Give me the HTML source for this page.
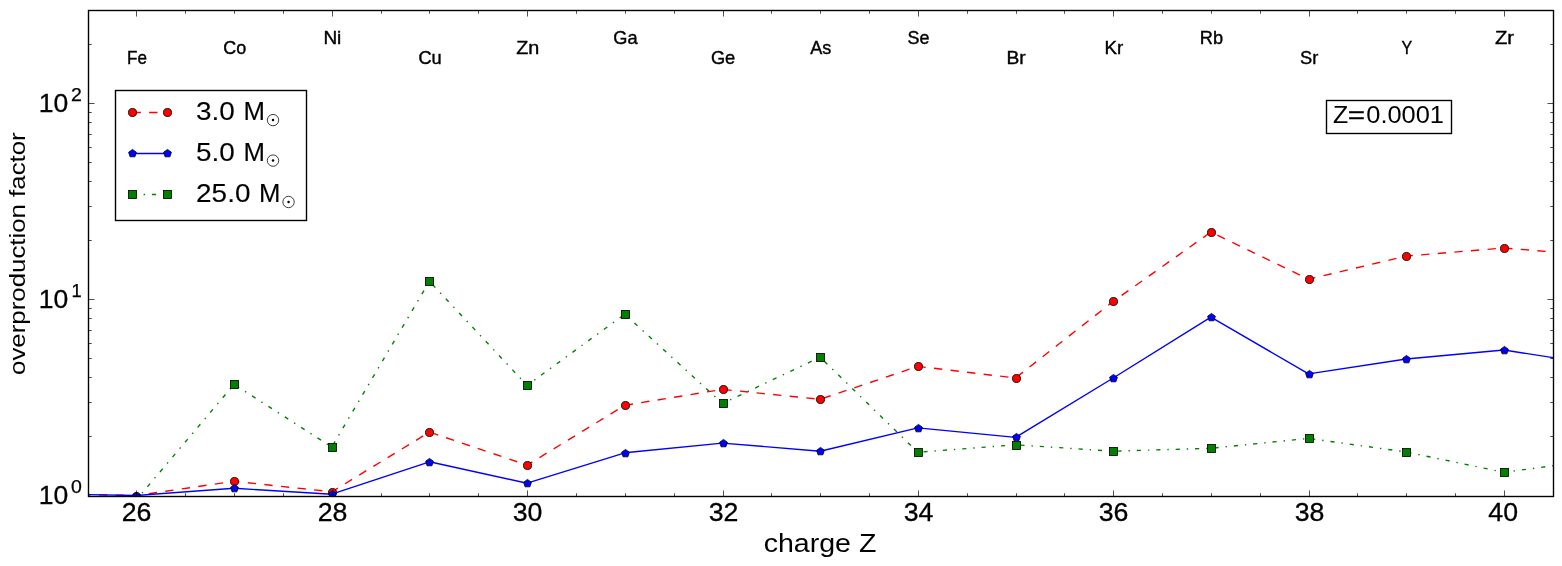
<!DOCTYPE html>
<html><head><meta charset="utf-8"><title>overproduction factor</title>
<style>html,body{margin:0;padding:0;background:#fff}svg{display:block;will-change:transform}text{font-family:"Liberation Sans",sans-serif;fill:#000}</style>
</head><body>
<svg width="1562" height="566" viewBox="0 0 1562 566">
<rect x="0" y="0" width="1562" height="566" fill="#fff"/>
<defs><clipPath id="ax"><rect x="88" y="10" width="1465" height="486"/></clipPath></defs>
<g clip-path="url(#ax)">
<path d="M38.74 493.9 L136.42 495.5 L234.1 481.3 L331.78 491.8 L429.46 432.1 L527.14 465.1 L624.82 405.3 L722.5 389.4 L820.18 399.3 L917.86 366.4 L1015.54 378 L1113.22 301.4 L1210.9 232.1 L1308.58 279.2 L1406.26 256.1 L1503.94 248 L1601.62 256" fill="none" stroke="#ff0000" stroke-width="1.39" stroke-dasharray="8.33 8.33" stroke-dashoffset="6.41"/>
<circle cx="136.5" cy="496.5" r="4.03" fill="#ff0000" stroke="#000" stroke-width="0.85"/>
<circle cx="234.5" cy="481.5" r="4.03" fill="#ff0000" stroke="#000" stroke-width="0.85"/>
<circle cx="332.5" cy="492.5" r="4.03" fill="#ff0000" stroke="#000" stroke-width="0.85"/>
<circle cx="429.5" cy="432.5" r="4.03" fill="#ff0000" stroke="#000" stroke-width="0.85"/>
<circle cx="527.5" cy="465.5" r="4.03" fill="#ff0000" stroke="#000" stroke-width="0.85"/>
<circle cx="625.5" cy="405.5" r="4.03" fill="#ff0000" stroke="#000" stroke-width="0.85"/>
<circle cx="723.5" cy="389.5" r="4.03" fill="#ff0000" stroke="#000" stroke-width="0.85"/>
<circle cx="820.5" cy="399.5" r="4.03" fill="#ff0000" stroke="#000" stroke-width="0.85"/>
<circle cx="918.5" cy="366.5" r="4.03" fill="#ff0000" stroke="#000" stroke-width="0.85"/>
<circle cx="1016.5" cy="378.5" r="4.03" fill="#ff0000" stroke="#000" stroke-width="0.85"/>
<circle cx="1113.5" cy="301.5" r="4.03" fill="#ff0000" stroke="#000" stroke-width="0.85"/>
<circle cx="1211.5" cy="232.5" r="4.03" fill="#ff0000" stroke="#000" stroke-width="0.85"/>
<circle cx="1309.5" cy="279.5" r="4.03" fill="#ff0000" stroke="#000" stroke-width="0.85"/>
<circle cx="1406.5" cy="256.5" r="4.03" fill="#ff0000" stroke="#000" stroke-width="0.85"/>
<circle cx="1504.5" cy="248.5" r="4.03" fill="#ff0000" stroke="#000" stroke-width="0.85"/>
<path d="M38.74 493.7 L136.42 495.5 L234.1 488.3 L331.78 494.2 L429.46 461.8 L527.14 483.2 L624.82 452.8 L722.5 443.1 L820.18 451.2 L917.86 427.9 L1015.54 437.4 L1113.22 378 L1210.9 317.2 L1308.58 373.9 L1406.26 359 L1503.94 350 L1601.62 365.2" fill="none" stroke="#0000ff" stroke-width="1.39" stroke-linejoin="round"/>
<polygon points="136.5,492.4 140.4,495.23 138.91,499.82 134.09,499.82 132.6,495.23" fill="#0000ff" stroke="#000" stroke-width="0.8" stroke-linejoin="miter"/>
<polygon points="234.5,484.4 238.4,487.23 236.91,491.82 232.09,491.82 230.6,487.23" fill="#0000ff" stroke="#000" stroke-width="0.8" stroke-linejoin="miter"/>
<polygon points="332.5,490.4 336.4,493.23 334.91,497.82 330.09,497.82 328.6,493.23" fill="#0000ff" stroke="#000" stroke-width="0.8" stroke-linejoin="miter"/>
<polygon points="429.5,458.4 433.4,461.23 431.91,465.82 427.09,465.82 425.6,461.23" fill="#0000ff" stroke="#000" stroke-width="0.8" stroke-linejoin="miter"/>
<polygon points="527.5,479.4 531.4,482.23 529.91,486.82 525.09,486.82 523.6,482.23" fill="#0000ff" stroke="#000" stroke-width="0.8" stroke-linejoin="miter"/>
<polygon points="625.5,449.4 629.4,452.23 627.91,456.82 623.09,456.82 621.6,452.23" fill="#0000ff" stroke="#000" stroke-width="0.8" stroke-linejoin="miter"/>
<polygon points="723.5,439.4 727.4,442.23 725.91,446.82 721.09,446.82 719.6,442.23" fill="#0000ff" stroke="#000" stroke-width="0.8" stroke-linejoin="miter"/>
<polygon points="820.5,447.4 824.4,450.23 822.91,454.82 818.09,454.82 816.6,450.23" fill="#0000ff" stroke="#000" stroke-width="0.8" stroke-linejoin="miter"/>
<polygon points="918.5,424.4 922.4,427.23 920.91,431.82 916.09,431.82 914.6,427.23" fill="#0000ff" stroke="#000" stroke-width="0.8" stroke-linejoin="miter"/>
<polygon points="1016.5,433.4 1020.4,436.23 1018.91,440.82 1014.09,440.82 1012.6,436.23" fill="#0000ff" stroke="#000" stroke-width="0.8" stroke-linejoin="miter"/>
<polygon points="1113.5,374.4 1117.4,377.23 1115.91,381.82 1111.09,381.82 1109.6,377.23" fill="#0000ff" stroke="#000" stroke-width="0.8" stroke-linejoin="miter"/>
<polygon points="1211.5,313.4 1215.4,316.23 1213.91,320.82 1209.09,320.82 1207.6,316.23" fill="#0000ff" stroke="#000" stroke-width="0.8" stroke-linejoin="miter"/>
<polygon points="1309.5,370.4 1313.4,373.23 1311.91,377.82 1307.09,377.82 1305.6,373.23" fill="#0000ff" stroke="#000" stroke-width="0.8" stroke-linejoin="miter"/>
<polygon points="1406.5,355.4 1410.4,358.23 1408.91,362.82 1404.09,362.82 1402.6,358.23" fill="#0000ff" stroke="#000" stroke-width="0.8" stroke-linejoin="miter"/>
<polygon points="1504.5,346.4 1508.4,349.23 1506.91,353.82 1502.09,353.82 1500.6,349.23" fill="#0000ff" stroke="#000" stroke-width="0.8" stroke-linejoin="miter"/>
<path d="M136.42 499.8 L234.1 384.3 L331.78 447 L429.46 281.3 L527.14 385.4 L624.82 314.2 L722.5 403.5 L820.18 357.2 L917.86 452.3 L1015.54 444.8 L1113.22 451.2 L1210.9 448.3 L1308.58 438.4 L1406.26 452 L1503.94 472.3 L1601.62 459.3" fill="none" stroke="#008000" stroke-width="1.39" stroke-dasharray="4.17 6.94 1.39 6.94" stroke-dashoffset="2.4"/>
<rect x="132.45" y="496.45" width="8.1" height="8.1" fill="#008000" stroke="#000" stroke-width="0.8"/>
<rect x="230.45" y="380.45" width="8.1" height="8.1" fill="#008000" stroke="#000" stroke-width="0.8"/>
<rect x="328.45" y="443.45" width="8.1" height="8.1" fill="#008000" stroke="#000" stroke-width="0.8"/>
<rect x="425.45" y="277.45" width="8.1" height="8.1" fill="#008000" stroke="#000" stroke-width="0.8"/>
<rect x="523.45" y="381.45" width="8.1" height="8.1" fill="#008000" stroke="#000" stroke-width="0.8"/>
<rect x="621.45" y="310.45" width="8.1" height="8.1" fill="#008000" stroke="#000" stroke-width="0.8"/>
<rect x="719.45" y="399.45" width="8.1" height="8.1" fill="#008000" stroke="#000" stroke-width="0.8"/>
<rect x="816.45" y="353.45" width="8.1" height="8.1" fill="#008000" stroke="#000" stroke-width="0.8"/>
<rect x="914.45" y="448.45" width="8.1" height="8.1" fill="#008000" stroke="#000" stroke-width="0.8"/>
<rect x="1012.45" y="441.45" width="8.1" height="8.1" fill="#008000" stroke="#000" stroke-width="0.8"/>
<rect x="1109.45" y="447.45" width="8.1" height="8.1" fill="#008000" stroke="#000" stroke-width="0.8"/>
<rect x="1207.45" y="444.45" width="8.1" height="8.1" fill="#008000" stroke="#000" stroke-width="0.8"/>
<rect x="1305.45" y="434.45" width="8.1" height="8.1" fill="#008000" stroke="#000" stroke-width="0.8"/>
<rect x="1402.45" y="448.45" width="8.1" height="8.1" fill="#008000" stroke="#000" stroke-width="0.8"/>
<rect x="1500.45" y="468.45" width="8.1" height="8.1" fill="#008000" stroke="#000" stroke-width="0.8"/>
</g>
<path d="M136.5 496.5 v-6.06 M136.5 10.5 v6.06 M185.5 496.5 v-3.28 M185.5 10.5 v3.28 M234.5 496.5 v-3.28 M234.5 10.5 v3.28 M283.5 496.5 v-3.28 M283.5 10.5 v3.28 M332.5 496.5 v-6.06 M332.5 10.5 v6.06 M381.5 496.5 v-3.28 M381.5 10.5 v3.28 M429.5 496.5 v-3.28 M429.5 10.5 v3.28 M478.5 496.5 v-3.28 M478.5 10.5 v3.28 M527.5 496.5 v-6.06 M527.5 10.5 v6.06 M576.5 496.5 v-3.28 M576.5 10.5 v3.28 M625.5 496.5 v-3.28 M625.5 10.5 v3.28 M674.5 496.5 v-3.28 M674.5 10.5 v3.28 M723.5 496.5 v-6.06 M723.5 10.5 v6.06 M771.5 496.5 v-3.28 M771.5 10.5 v3.28 M820.5 496.5 v-3.28 M820.5 10.5 v3.28 M869.5 496.5 v-3.28 M869.5 10.5 v3.28 M918.5 496.5 v-6.06 M918.5 10.5 v6.06 M967.5 496.5 v-3.28 M967.5 10.5 v3.28 M1016.5 496.5 v-3.28 M1016.5 10.5 v3.28 M1064.5 496.5 v-3.28 M1064.5 10.5 v3.28 M1113.5 496.5 v-6.06 M1113.5 10.5 v6.06 M1162.5 496.5 v-3.28 M1162.5 10.5 v3.28 M1211.5 496.5 v-3.28 M1211.5 10.5 v3.28 M1260.5 496.5 v-3.28 M1260.5 10.5 v3.28 M1309.5 496.5 v-6.06 M1309.5 10.5 v6.06 M1357.5 496.5 v-3.28 M1357.5 10.5 v3.28 M1406.5 496.5 v-3.28 M1406.5 10.5 v3.28 M1455.5 496.5 v-3.28 M1455.5 10.5 v3.28 M1504.5 496.5 v-6.06 M1504.5 10.5 v6.06 M88.5 436.5 h3.28 M1553.5 436.5 h-3.28 M88.5 402.5 h3.28 M1553.5 402.5 h-3.28 M88.5 377.5 h3.28 M1553.5 377.5 h-3.28 M88.5 358.5 h3.28 M1553.5 358.5 h-3.28 M88.5 343.5 h3.28 M1553.5 343.5 h-3.28 M88.5 330.5 h3.28 M1553.5 330.5 h-3.28 M88.5 318.5 h3.28 M1553.5 318.5 h-3.28 M88.5 308.5 h3.28 M1553.5 308.5 h-3.28 M88.5 299.5 h6.06 M1553.5 299.5 h-6.06 M88.5 240.5 h3.28 M1553.5 240.5 h-3.28 M88.5 206.5 h3.28 M1553.5 206.5 h-3.28 M88.5 181.5 h3.28 M1553.5 181.5 h-3.28 M88.5 162.5 h3.28 M1553.5 162.5 h-3.28 M88.5 147.5 h3.28 M1553.5 147.5 h-3.28 M88.5 134.5 h3.28 M1553.5 134.5 h-3.28 M88.5 122.5 h3.28 M1553.5 122.5 h-3.28 M88.5 112.5 h3.28 M1553.5 112.5 h-3.28 M88.5 103.5 h6.06 M1553.5 103.5 h-6.06 M88.5 44.5 h3.28 M1553.5 44.5 h-3.28" fill="none" stroke="#000" stroke-width="0.69"/>
<rect x="88.5" y="10.5" width="1465" height="486" fill="none" stroke="#000" stroke-width="1.39"/>
<text x="121.65" y="521.3" font-size="25.86" textLength="29.7" lengthAdjust="spacingAndGlyphs" stroke="#000" stroke-width="0.3">26</text>
<text x="317.65" y="521.3" font-size="25.86" textLength="29.7" lengthAdjust="spacingAndGlyphs" stroke="#000" stroke-width="0.3">28</text>
<text x="512.65" y="521.3" font-size="25.86" textLength="29.7" lengthAdjust="spacingAndGlyphs" stroke="#000" stroke-width="0.3">30</text>
<text x="708.65" y="521.3" font-size="25.86" textLength="29.7" lengthAdjust="spacingAndGlyphs" stroke="#000" stroke-width="0.3">32</text>
<text x="903.65" y="521.3" font-size="25.86" textLength="29.7" lengthAdjust="spacingAndGlyphs" stroke="#000" stroke-width="0.3">34</text>
<text x="1098.65" y="521.3" font-size="25.86" textLength="29.7" lengthAdjust="spacingAndGlyphs" stroke="#000" stroke-width="0.3">36</text>
<text x="1294.65" y="521.3" font-size="25.86" textLength="29.7" lengthAdjust="spacingAndGlyphs" stroke="#000" stroke-width="0.3">38</text>
<text x="1488.35" y="521.3" font-size="25.86" textLength="29.7" lengthAdjust="spacingAndGlyphs" stroke="#000" stroke-width="0.3">40</text>
<text x="38.8" y="503.9" font-size="25.86" textLength="29.5" lengthAdjust="spacingAndGlyphs" stroke="#000" stroke-width="0.3">10</text>
<text x="71" y="492.7" font-size="18.1" textLength="10.87" lengthAdjust="spacingAndGlyphs" stroke="#000" stroke-width="0.25">0</text>
<text x="38.8" y="308" font-size="25.86" textLength="29.5" lengthAdjust="spacingAndGlyphs" stroke="#000" stroke-width="0.3">10</text>
<text x="71.5" y="296.8" font-size="18.1" textLength="10.2" lengthAdjust="spacingAndGlyphs" stroke="#000" stroke-width="0.25">1</text>
<text x="38.8" y="112" font-size="25.86" textLength="29.5" lengthAdjust="spacingAndGlyphs" stroke="#000" stroke-width="0.3">10</text>
<text x="71" y="100.8" font-size="18.1" textLength="10.87" lengthAdjust="spacingAndGlyphs" stroke="#000" stroke-width="0.25">2</text>
<text x="763.65" y="551.7" font-size="25.86" textLength="112.7" lengthAdjust="spacingAndGlyphs">charge Z</text>
<g transform="translate(25.4 374.9) rotate(-90)"><text x="0" y="0" font-size="22.79" textLength="242.6" lengthAdjust="spacingAndGlyphs">overproduction factor</text></g>
<text x="127.08" y="64.2" font-size="18.55" textLength="19.88" lengthAdjust="spacingAndGlyphs" stroke="#000" stroke-width="0.4">Fe</text>
<text x="223.24" y="53.9" font-size="18.55" textLength="22.93" lengthAdjust="spacingAndGlyphs" stroke="#000" stroke-width="0.4">Co</text>
<text x="323.4" y="44.1" font-size="18.55" textLength="17.95" lengthAdjust="spacingAndGlyphs" stroke="#000" stroke-width="0.4">Ni</text>
<text x="418.4" y="64.2" font-size="18.55" textLength="23.31" lengthAdjust="spacingAndGlyphs" stroke="#000" stroke-width="0.4">Cu</text>
<text x="516.2" y="53.9" font-size="18.55" textLength="23.08" lengthAdjust="spacingAndGlyphs" stroke="#000" stroke-width="0.4">Zn</text>
<text x="613.28" y="44.1" font-size="18.55" textLength="24.28" lengthAdjust="spacingAndGlyphs" stroke="#000" stroke-width="0.4">Ga</text>
<text x="710.94" y="64.2" font-size="18.55" textLength="24.33" lengthAdjust="spacingAndGlyphs" stroke="#000" stroke-width="0.4">Ge</text>
<text x="810.24" y="53.9" font-size="18.55" textLength="21.09" lengthAdjust="spacingAndGlyphs" stroke="#000" stroke-width="0.4">As</text>
<text x="907.52" y="44.1" font-size="18.55" textLength="21.88" lengthAdjust="spacingAndGlyphs" stroke="#000" stroke-width="0.4">Se</text>
<text x="1006.54" y="64.2" font-size="18.55" textLength="19.2" lengthAdjust="spacingAndGlyphs" stroke="#000" stroke-width="0.4">Br</text>
<text x="1104.48" y="53.9" font-size="18.55" textLength="18.67" lengthAdjust="spacingAndGlyphs" stroke="#000" stroke-width="0.4">Kr</text>
<text x="1199.87" y="44.1" font-size="18.55" textLength="23.27" lengthAdjust="spacingAndGlyphs" stroke="#000" stroke-width="0.4">Rb</text>
<text x="1300.03" y="64.2" font-size="18.55" textLength="18.3" lengthAdjust="spacingAndGlyphs" stroke="#000" stroke-width="0.4">Sr</text>
<text x="1401.52" y="53.9" font-size="18.55" textLength="10.69" lengthAdjust="spacingAndGlyphs" stroke="#000" stroke-width="0.4">Y</text>
<text x="1494.95" y="44.1" font-size="18.55" textLength="19.18" lengthAdjust="spacingAndGlyphs" stroke="#000" stroke-width="0.4">Zr</text>
<rect x="1326.5" y="100.5" width="125" height="33" fill="#fff" stroke="#000" stroke-width="1.39"/>
<text x="1332.96" y="123.1" font-size="23.21" textLength="15.21" lengthAdjust="spacingAndGlyphs">Z</text>
<text x="1347.66" y="123.1" font-size="23.21" textLength="17.4" lengthAdjust="spacingAndGlyphs" stroke="#000" stroke-width="0.25">=</text>
<text x="1366.27" y="123.1" font-size="23.21" textLength="77.68" lengthAdjust="spacingAndGlyphs">0.0001</text>
<rect x="115.5" y="90.5" width="191" height="130" fill="#fff" stroke="#000" stroke-width="1.39"/>
<path d="M132.5 112.5 H167.5" fill="none" stroke="#ff0000" stroke-width="1.39" stroke-dasharray="8.33 8.33"/>
<circle cx="132.5" cy="112.5" r="4.03" fill="#ff0000" stroke="#000" stroke-width="0.85"/>
<circle cx="167.5" cy="112.5" r="4.03" fill="#ff0000" stroke="#000" stroke-width="0.85"/>
<text x="196.1" y="120.2" font-size="25.44" textLength="38.8" lengthAdjust="spacingAndGlyphs" stroke="#000" stroke-width="0.12">3.0</text>
<text x="243.56" y="120.2" font-size="25.44" textLength="21.45" lengthAdjust="spacingAndGlyphs" stroke="#000" stroke-width="0.12">M</text>
<circle cx="273.01" cy="120.1" r="5.7" fill="none" stroke="#000" stroke-width="0.75"/>
<circle cx="273.01" cy="120.1" r="1.25" fill="#000"/>
<path d="M132.5 153.5 H167.5" fill="none" stroke="#0000ff" stroke-width="1.39"/>
<polygon points="132.5,149.4 136.4,152.23 134.91,156.82 130.09,156.82 128.6,152.23" fill="#0000ff" stroke="#000" stroke-width="0.8" stroke-linejoin="miter"/>
<polygon points="167.5,149.4 171.4,152.23 169.91,156.82 165.09,156.82 163.6,152.23" fill="#0000ff" stroke="#000" stroke-width="0.8" stroke-linejoin="miter"/>
<text x="196.1" y="160.7" font-size="25.44" textLength="38.8" lengthAdjust="spacingAndGlyphs" stroke="#000" stroke-width="0.12">5.0</text>
<text x="243.56" y="160.7" font-size="25.44" textLength="21.45" lengthAdjust="spacingAndGlyphs" stroke="#000" stroke-width="0.12">M</text>
<circle cx="273.01" cy="160.6" r="5.7" fill="none" stroke="#000" stroke-width="0.75"/>
<circle cx="273.01" cy="160.6" r="1.25" fill="#000"/>
<path d="M132.5 194.5 H167.5" fill="none" stroke="#008000" stroke-width="1.39" stroke-dasharray="4.17 6.94 1.39 6.94"/>
<rect x="128.45" y="190.45" width="8.1" height="8.1" fill="#008000" stroke="#000" stroke-width="0.8"/>
<rect x="163.45" y="190.45" width="8.1" height="8.1" fill="#008000" stroke="#000" stroke-width="0.8"/>
<text x="196.1" y="202.1" font-size="25.44" textLength="54.33" lengthAdjust="spacingAndGlyphs" stroke="#000" stroke-width="0.12">25.0</text>
<text x="259.08" y="202.1" font-size="25.44" textLength="21.45" lengthAdjust="spacingAndGlyphs" stroke="#000" stroke-width="0.12">M</text>
<circle cx="288.54" cy="202" r="5.7" fill="none" stroke="#000" stroke-width="0.75"/>
<circle cx="288.54" cy="202" r="1.25" fill="#000"/>
</svg>
</body></html>
